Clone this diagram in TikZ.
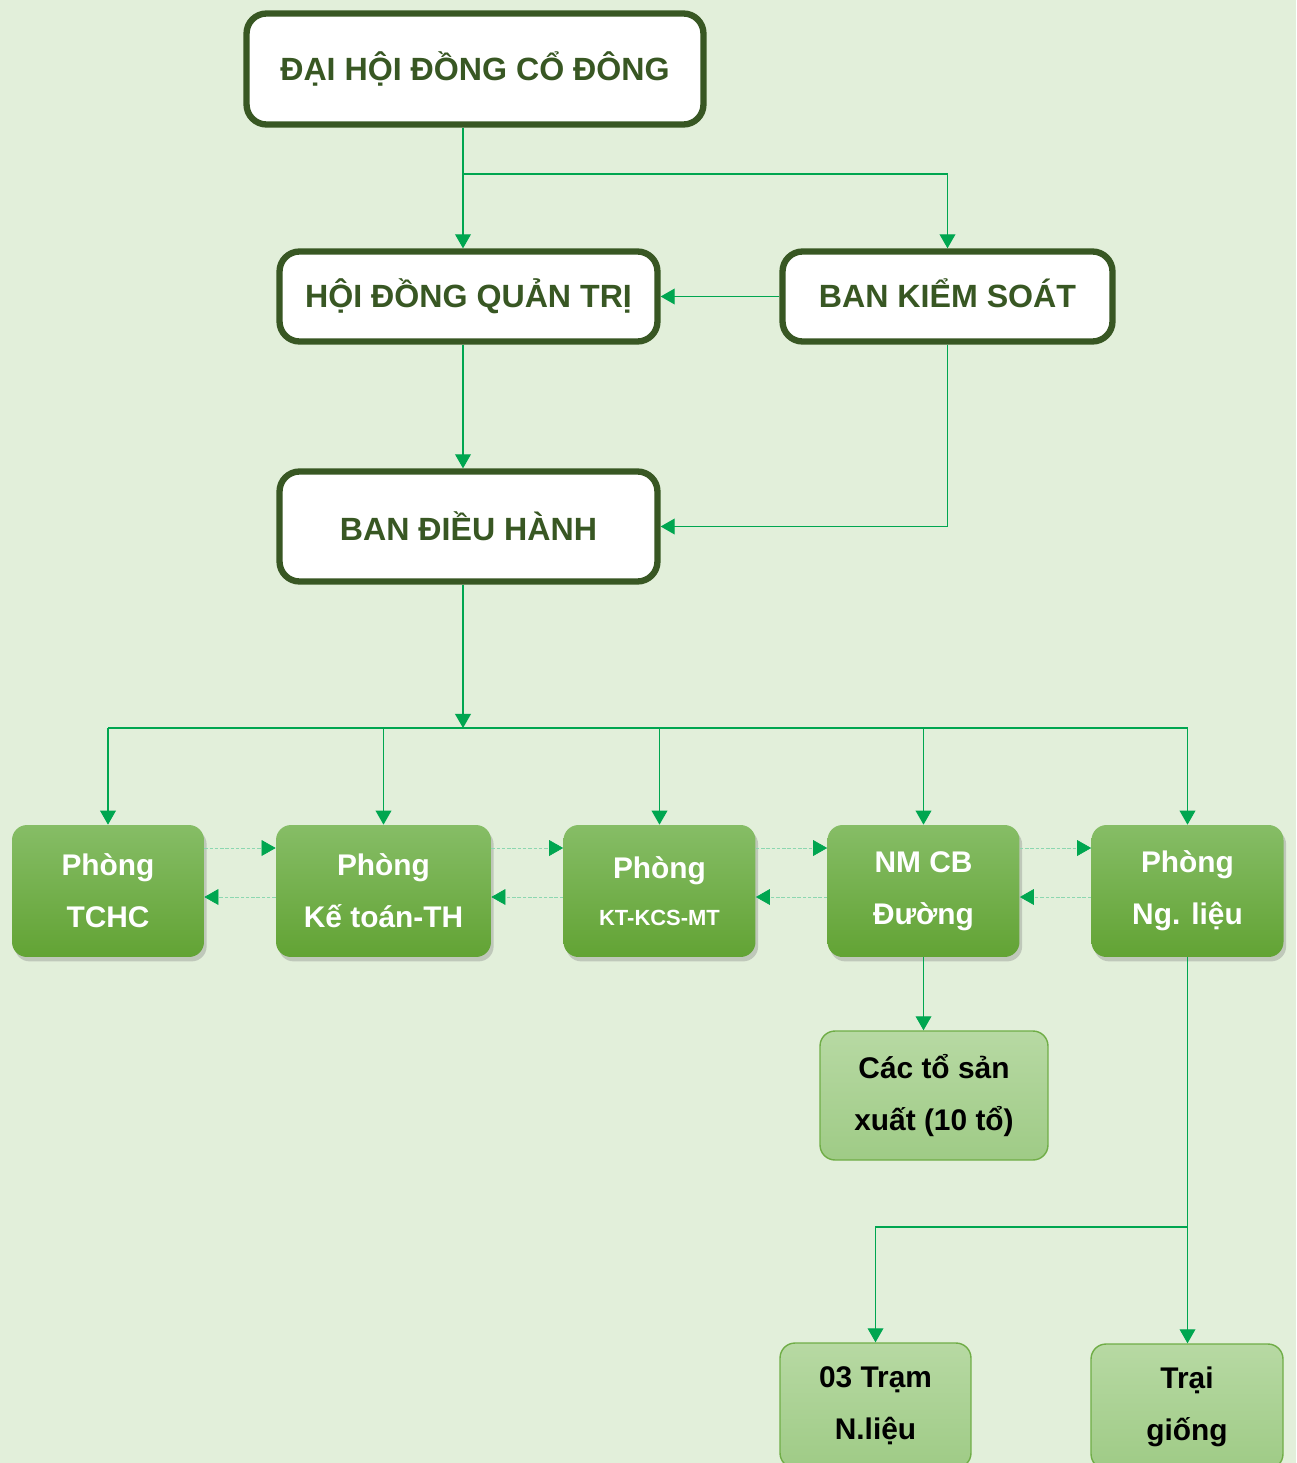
\documentclass[tikz,border=0pt]{standalone}
\usepackage{fontspec}
\setmainfont{Liberation Sans}
\usetikzlibrary{arrows.meta,shadows}

\definecolor{bgcol}{HTML}{E2EFDA}
\definecolor{dkgreen}{HTML}{385723}
\definecolor{linkcol}{HTML}{00A650}
\definecolor{gtop}{HTML}{86BD66}
\definecolor{gbot}{HTML}{62A334}
\definecolor{ltop}{HTML}{B7D9A3}
\definecolor{lbot}{HTML}{9FCB86}
\definecolor{lborder}{HTML}{70AD47}

\begin{document}
\begin{tikzpicture}[
  x=0.02cm, y=-0.02cm,
  every node/.style={align=center,font=\bfseries\fontsize{17}{29.5}\selectfont},
  head/.style={rectangle,rounded corners=0.4cm,draw=dkgreen,line width=3.6pt,fill=white,text=dkgreen,
    font=\bfseries\fontsize{18.3}{22}\selectfont},
  dept/.style={rectangle,rounded corners=0.3cm,minimum width=3.84cm,minimum height=2.64cm,
    top color=gtop,bottom color=gbot,text=white,
    drop shadow={shadow xshift=1.5pt,shadow yshift=-2.5pt,opacity=0.35}},
  unit/.style={rectangle,rounded corners=0.3cm,draw=lborder,line width=0.8pt,
    top color=ltop,bottom color=lbot,text=black},
  wire/.style={draw=linkcol,line width=0.6pt},
  link/.style={wire,-{Triangle[length=8pt,width=9pt]}},
  dlink/.style={wire,line width=0.4pt,-{Triangle[length=8pt,width=9pt,color=linkcol]},
    draw=linkcol!45,dash pattern=on 2pt off 1pt}
]
\fill[bgcol] (0,0) rectangle (1296,1463);
\useasboundingbox (0,0) rectangle (1296,1463);

% top levels
\node[head,minimum width=9.14cm,minimum height=2.22cm] (dhdcd) at (475,69) {\raisebox{3.5pt}{ĐẠI HỘI ĐỒNG CỔ ĐÔNG}};
\node[head,minimum width=7.56cm,minimum height=1.8cm] (hdqt) at (468.5,296.5) {HỘI ĐỒNG QUẢN TRỊ};
\node[head,minimum width=6.6cm,minimum height=1.8cm] (bks) at (947.5,296.5) {\raisebox{4pt}{BAN KIỂM SOÁT}};
\node[head,minimum width=7.56cm,minimum height=2.2cm] (bdh) at (468.5,526.5) {\raisebox{-2.5pt}{BAN ĐIỀU HÀNH}};

% departments
\node[dept] (tchc) at (108,891) {Phòng\\TCHC};
\node[dept,minimum width=4.3cm] (ketoan) at (383.5,891) {Phòng\\Kế toán-TH};
\node[dept] (kcs) at (659.5,891) {Phòng\\[-3pt]{\fontsize{12.5}{13}\selectfont KT-KCS-MT}};
\node[dept] (nmcb) at (923.5,891) {NM CB\\Đường};
\node[dept] (nglieu) at (1187.5,891) {Phòng\\Ng. liệu};

% units
\node[unit,minimum width=4.56cm,minimum height=2.58cm] (cacto) at (934,1095.5) {Các tổ sản\\xuất (10 tổ)};
\node[unit,minimum width=3.82cm,minimum height=2.5cm] (tram) at (875.5,1405.5) {03 Trạm\\N.liệu};
\node[unit,minimum width=3.84cm,minimum height=2.5cm] (trai) at (1187,1406.5) {Trại\\giống};

% connectors
\coordinate (splitA) at (463,174);
\coordinate (bus) at (463,728);
\coordinate (splitB) at (1190,1227);
\coordinate (upper) at (0,848);
\coordinate (lower) at (0,897);

\draw[link] (dhdcd.south -| splitA) -- (hdqt.north -| splitA);
\draw[link] (splitA) -| (bks.north);
\draw[link] (bks.west) -- (hdqt.east |- bks.west);
\draw[link] (hdqt.south -| splitA) -- (bdh.north -| splitA);
\draw[link] (bks.south) |- (bdh.east);
\draw[link] (bdh.south -| bus) -- (bus);
\draw[wire] (tchc.north |- bus) -- (nglieu.north |- bus);
\foreach \n in {tchc,ketoan,kcs,nmcb,nglieu}
  \draw[link] (\n.north |- bus) -- (\n.north);
\foreach \a/\b in {tchc/ketoan,ketoan/kcs,kcs/nmcb,nmcb/nglieu}{
  \draw[dlink] (\a.east |- upper) -- (\b.west |- upper);
  \draw[dlink] (\b.west |- lower) -- (\a.east |- lower);
}
\draw[link] (nmcb.south) -- (nmcb.south |- cacto.north);
\draw[link] (nglieu.south) -- (nglieu.south |- trai.north);
\draw[link] (nglieu.south |- splitB) -| (tram.north);
\end{tikzpicture}
\end{document}
